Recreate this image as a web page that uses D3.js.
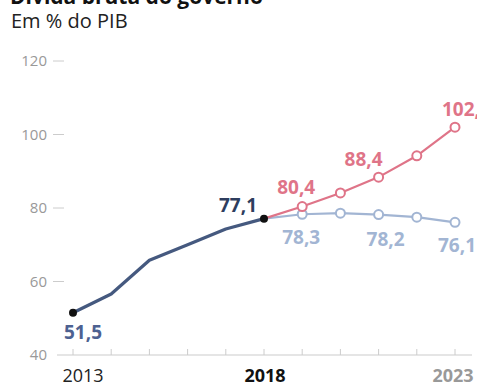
<!DOCTYPE html>
<html>
<head>
<meta charset="utf-8">
<script src="https://cdn.jsdelivr.net/npm/d3@7"></script>
<style>
  body { margin: 0; background: #fff; }
  svg { display: block; font-family: "Open Sans", sans-serif; }
</style>
</head>
<body>
<div id="chart"></div>
<script>
// historical series
let histYears = [2013, 2014, 2015, 2016, 2017, 2018]
let histValues = [51.5, 56.6, 65.8, 70.0, 74.3, 77.1]

// projections (start at 2018)
let projYears = [2018, 2019, 2020, 2021, 2022, 2023]
let redValues = [77.1, 80.4, 84.1, 88.4, 94.2, 102.0]
let blueValues = [77.1, 78.3, 78.6, 78.2, 77.5, 76.1]

let yTicks = [40, 60, 80, 100, 120]
let xLabels = [2013, 2018, 2023]

let width = 477, height = 385

let svg = d3.select("#chart").append("svg")
    .attr("width", width)
    .attr("height", height)

let x = d3.scaleLinear().domain([2013, 2023]).range([73, 455])
let y = d3.scaleLinear().domain([40, 120]).range([355, 61])

// Title (cut at top) and subtitle
svg.append("text")
    .attr("x", 10).attr("y", 4)
    .style("font-size", "21px").style("font-weight", "bold").style("fill", "#111")
    .text("Dívida bruta do governo")
svg.append("text")
    .attr("x", 11).attr("y", 28)
    .style("font-size", "20px").style("fill", "#222")
    .text("Em % do PIB")

// Y axis: labels + short dashes
let yAxis = svg.append("g")
yTicks.forEach(function (t) {
    if (t !== 40) {
        yAxis.append("line")
            .attr("x1", 53).attr("x2", 64)
            .attr("y1", y(t)).attr("y2", y(t))
            .attr("stroke", "#ccc").attr("stroke-width", 1)
    }
    yAxis.append("text")
        .attr("x", 47).attr("y", y(t) + 5)
        .attr("text-anchor", "end")
        .style("font-size", "15px").style("fill", "#999")
        .text(t)
})

// X axis baseline and ticks
let years = d3.range(2013, 2024)
svg.append("line")
    .attr("x1", 57).attr("x2", 472)
    .attr("y1", y(40)).attr("y2", y(40))
    .attr("stroke", "#ddd").attr("stroke-width", 1.5)
svg.append("g").selectAll("line").data(years).join("line")
    .attr("x1", d => x(d)).attr("x2", d => x(d))
    .attr("y1", y(40)).attr("y2", y(40) - 6)
    .attr("stroke", "#ccc").attr("stroke-width", 1)

let xStyle = {
    2013: { weight: "normal", color: "#222", dx: 10 },
    2018: { weight: "bold", color: "#111", dx: 1 },
    2023: { weight: "bold", color: "#999", dx: -2 }
}
svg.append("g").selectAll("text").data(xLabels).join("text")
    .attr("x", d => x(d) + xStyle[d].dx)
    .attr("y", 382)
    .attr("text-anchor", "middle")
    .style("font-size", "18px")
    .style("font-weight", d => xStyle[d].weight)
    .style("fill", d => xStyle[d].color)
    .text(d => d)

let line = d3.line().x(d => x(d[0])).y(d => y(d[1]))

let red = "#df7488", blue = "#a2b5d3", navy = "#45597f"

// projection lines
let blueData = d3.zip(projYears, blueValues)
let redData = d3.zip(projYears, redValues)

svg.append("path").datum(blueData)
    .attr("d", line).attr("fill", "none")
    .attr("stroke", blue).attr("stroke-width", 2.2)
svg.append("path").datum(redData)
    .attr("d", line).attr("fill", "none")
    .attr("stroke", red).attr("stroke-width", 2.2)

// historical line
let histData = d3.zip(histYears, histValues)
svg.append("path").datum(histData)
    .attr("d", line).attr("fill", "none")
    .attr("stroke", navy).attr("stroke-width", 3.2)
    .attr("stroke-linejoin", "round")

// open circles on projections
svg.append("g").selectAll("circle").data(blueData.slice(1)).join("circle")
    .attr("cx", d => x(d[0])).attr("cy", d => y(d[1])).attr("r", 4.5)
    .attr("fill", "#fff").attr("stroke", blue).attr("stroke-width", 2)
svg.append("g").selectAll("circle").data(redData.slice(1)).join("circle")
    .attr("cx", d => x(d[0])).attr("cy", d => y(d[1])).attr("r", 4.5)
    .attr("fill", "#fff").attr("stroke", red).attr("stroke-width", 2)

// black endpoints of history
svg.append("g").selectAll("circle")
    .data([histData[0], histData[histData.length - 1]]).join("circle")
    .attr("cx", d => x(d[0])).attr("cy", d => y(d[1])).attr("r", 4)
    .attr("fill", "#111")

// value labels
let fmt = v => d3.format(".1f")(v).replace(".", ",")
let labels = [
    { yr: 2013, v: histValues[0], text: fmt(histValues[0]), color: "#4d6191", dx: 10, dy: 26 },
    { yr: 2018, v: histValues[5], text: fmt(histValues[5]), color: "#2e3d5e", dx: -26, dy: -7 },
    { yr: 2019, v: redValues[1], text: fmt(redValues[1]), color: red, dx: -6, dy: -13 },
    { yr: 2021, v: redValues[3], text: fmt(redValues[3]), color: red, dx: -15, dy: -11 },
    { yr: 2023, v: redValues[5], text: "102,", color: red, dx: 6, dy: -11 },
    { yr: 2019, v: blueValues[1], text: fmt(blueValues[1]), color: blue, dx: -1, dy: 30 },
    { yr: 2021, v: blueValues[3], text: fmt(blueValues[3]), color: blue, dx: 7, dy: 31 },
    { yr: 2023, v: blueValues[5], text: fmt(blueValues[5]), color: blue, dx: 2, dy: 30 }
]
svg.append("g").selectAll("text").data(labels).join("text")
    .attr("x", d => x(d.yr) + d.dx)
    .attr("y", d => y(d.v) + d.dy)
    .attr("text-anchor", "middle")
    .style("font-size", "19px").style("font-weight", "bold")
    .style("fill", d => d.color)
    .text(d => d.text)
</script>
</body>
</html>
